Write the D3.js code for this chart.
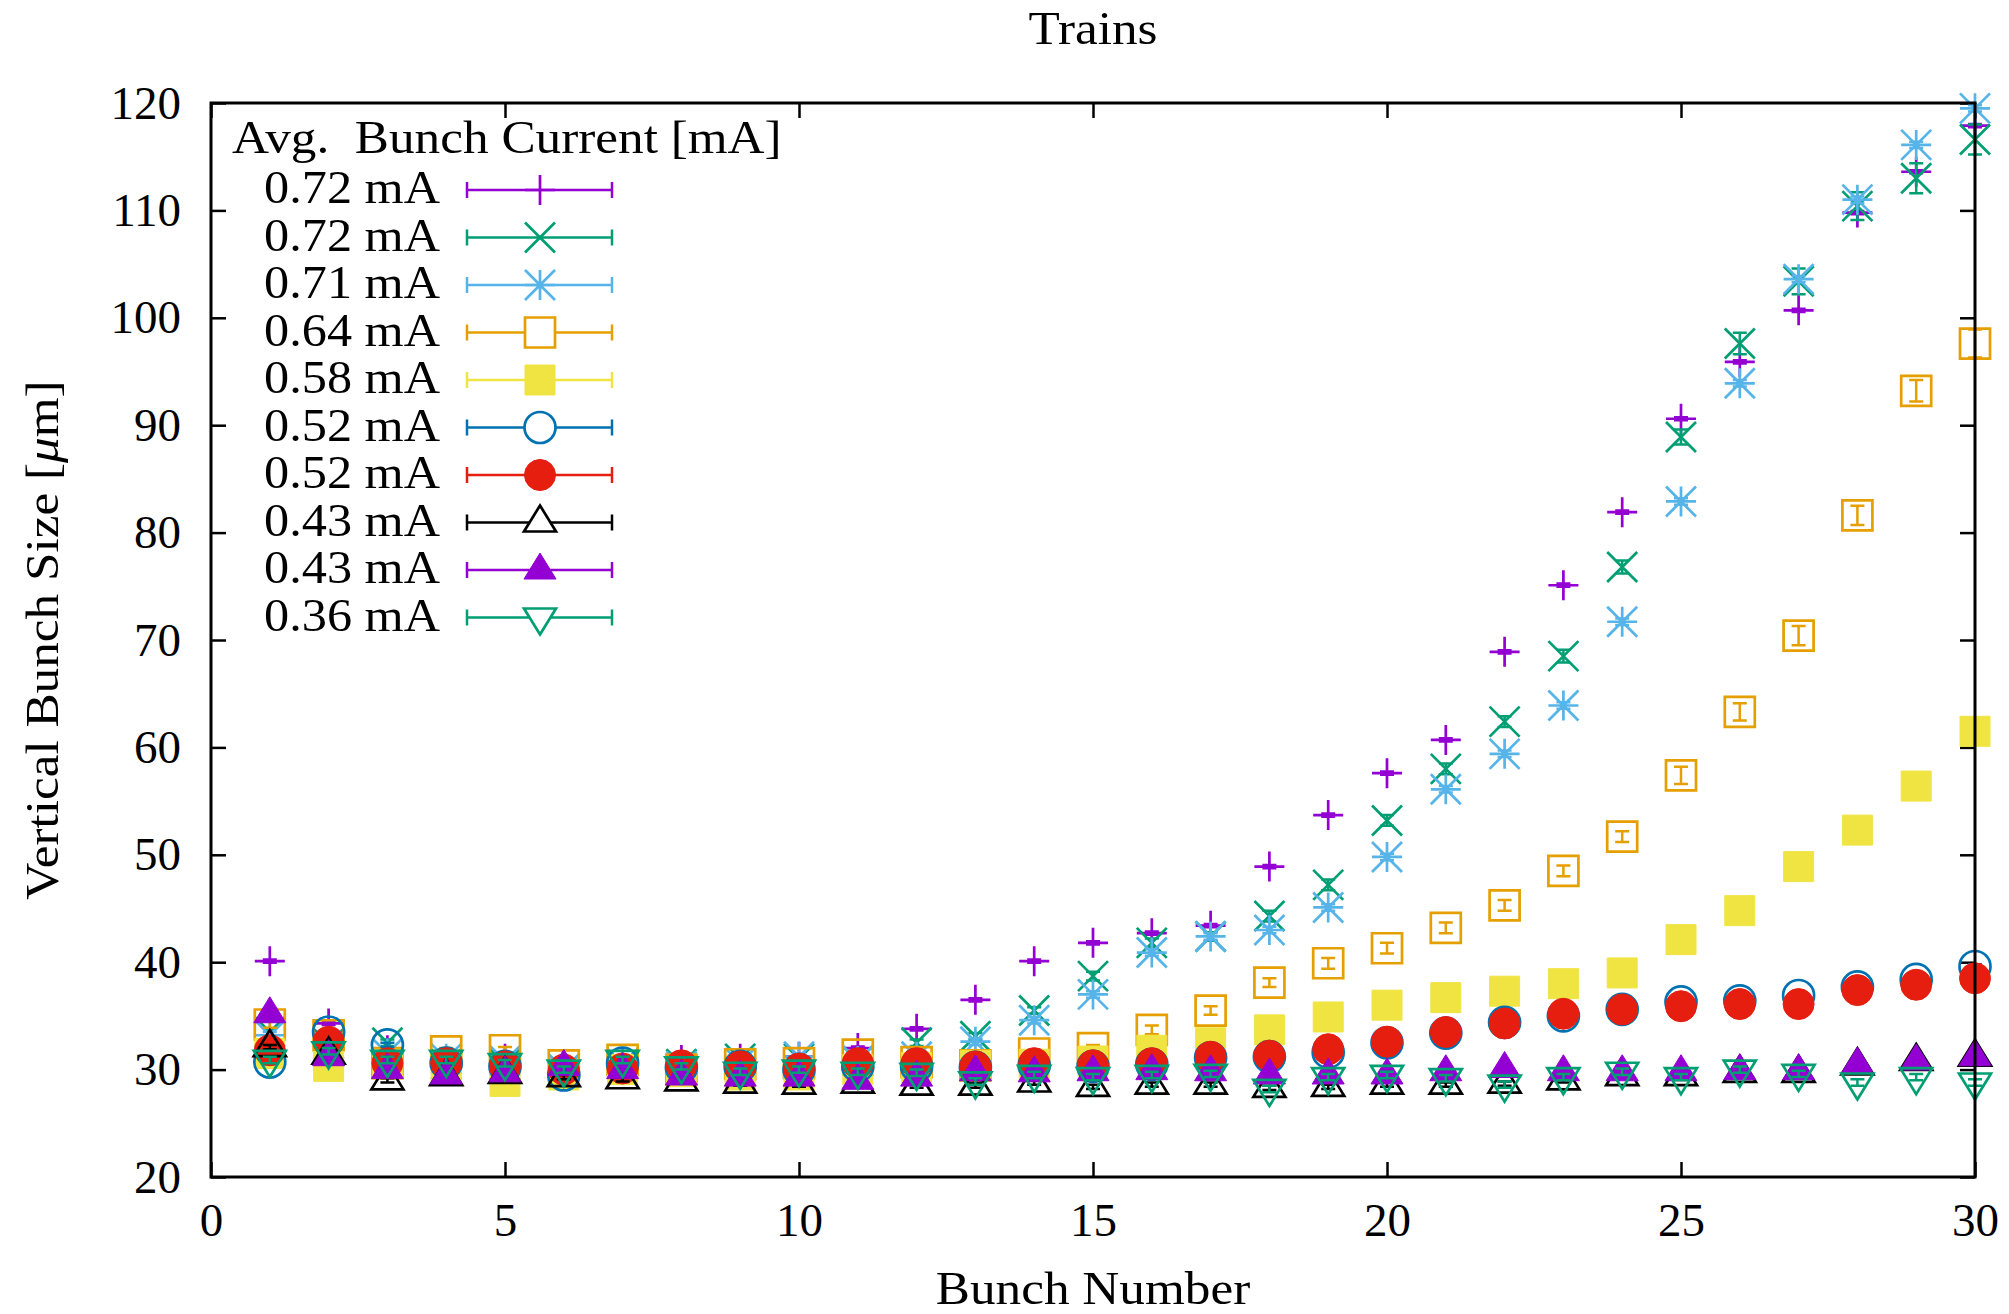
<!DOCTYPE html>
<html>
<head>
<meta charset="utf-8">
<style>
  body { margin: 0; background: #fff; }
  svg text { font-family: "Liberation Serif", "Times New Roman", serif; font-size: 47px; fill: #000; }
</style>
<script src="https://cdn.jsdelivr.net/npm/d3@7"></script>
</head>
<body>
<script>
// ---- data ----
const bunches = [1,2,3,4,5,6,7,8,9,10,11,12,13,14,15,16,17,18,19,20,21,22,23,24,25,26,27,28,29,30];
const xTicks = [0, 5, 10, 15, 20, 25, 30];
const yTicks = [20, 30, 40, 50, 60, 70, 80, 90, 100, 110, 120];
const labels = ["0.72 mA", "0.72 mA", "0.71 mA", "0.64 mA", "0.58 mA",
                "0.52 mA", "0.52 mA", "0.43 mA", "0.43 mA", "0.36 mA"];

const size072a = [40.1,34.3,31.8,30.7,31.0,30.2,30.6,30.9,31.0,31.2,32.0,33.8,36.5,40.1,41.8,
                  42.7,43.4,48.9,53.7,57.6,60.7,68.9,75.1,81.9,90.6,95.9,100.7,109.8,113.6,117.9];
const size072b = [33.5,32.4,32.5,30.5,30.5,30.0,30.5,30.5,31.0,31.0,30.8,32.5,33.1,35.5,38.7,
                  41.8,42.4,44.3,47.2,53.2,58.0,62.4,68.5,76.8,88.9,97.6,103.4,110.4,113.0,116.6];
const size071  = [33.2,32.0,31.5,31.0,30.8,30.0,30.5,30.3,30.6,31.2,30.8,31.2,32.6,34.6,37.0,
                  40.9,42.4,43.0,45.1,49.8,56.1,59.4,63.9,71.7,82.9,93.9,103.6,111.0,116.1,119.5];
const size064  = [34.2,33.2,30.6,31.7,31.8,30.4,30.9,30.0,30.5,30.6,31.4,30.7,30.4,31.5,32.0,
                  33.7,35.5,38.1,39.9,41.3,43.2,45.3,48.5,51.7,57.4,63.3,70.4,81.6,93.2,97.6];
const size058  = [31.5,30.3,30.5,30.3,28.9,29.5,30.0,29.8,29.5,29.5,30.0,30.2,30.4,30.5,30.8,
                  31.8,32.5,33.7,34.9,36.0,36.7,37.3,38.0,39.0,42.1,44.8,48.9,52.3,56.4,61.5];
const size052a = [30.7,33.5,32.3,30.6,30.3,29.5,30.6,30.2,30.3,30.0,30.3,30.3,30.2,30.4,30.3,
                  30.5,31.1,31.2,31.6,32.5,33.4,34.4,35.0,35.6,36.3,36.4,36.9,37.7,38.4,39.6];
const size052b = [31.8,32.6,30.6,30.6,30.3,30.0,30.1,30.4,30.3,30.1,30.6,30.6,30.3,30.6,30.4,
                  30.6,31.2,31.3,31.9,32.6,33.5,34.3,35.2,35.6,35.9,36.1,36.1,37.4,37.9,38.5];
const size043a = [32.1,31.4,29.0,29.4,29.6,29.3,29.1,28.9,28.7,28.6,28.7,28.5,28.5,28.8,28.4,
                  28.6,28.6,28.3,28.4,28.6,28.6,28.7,29.0,29.4,29.4,29.7,29.7,30.4,30.8,31.2];
const size043b = [35.2,31.2,30.0,29.5,29.7,30.3,30.0,29.4,29.3,29.3,29.0,29.3,29.8,29.7,29.8,
                  29.9,29.8,29.5,29.5,29.5,29.8,30.1,29.8,29.8,29.8,29.9,29.9,30.5,30.8,31.2];
const size036  = [30.9,31.7,30.9,30.9,30.6,30.0,30.9,30.3,29.8,30.0,29.8,29.7,28.9,29.5,29.3,
                  29.5,29.6,28.2,29.3,29.5,29.2,28.6,29.3,29.8,29.3,30.0,29.6,28.8,29.3,28.8];

// error bars (half widths) where they can be seen
const err072b = [0.3,0.3,0.3,0.3,0.3,0.3,0.3,0.3,0.3,0.3,0.3,0.3,0.3,0.3,0.4,
                 0.4,0.4,0.5,0.5,0.5,0.5,0.5,0.6,0.6,0.7,1.0,1.2,1.3,1.4,1.4];
const err064  = [0.3,0.3,0.3,0.3,0.3,0.3,0.3,0.3,0.3,0.3,0.3,0.3,0.3,0.3,0.3,
                 0.4,0.4,0.4,0.5,0.5,0.5,0.5,0.5,0.5,0.8,0.8,0.9,0.9,1.0,1.3];
// typical half width for the series whose bars hide under the markers
const errTypical = [0.15, null, 0.3, null, 0.2, 0.2, 0.2, 0.2, 0.2, 0.3];

const seriesValues = [size072a, size072b, size071, size064, size058,
                      size052a, size052b, size043a, size043b, size036];
const seriesErrors = [null, err072b, null, err064, null, null, null, null, null, null];

// ---- styles ----
const styles = [
  {color: "#9400d3", shape: "plus",    fill: false},
  {color: "#009e73", shape: "cross",   fill: false},
  {color: "#56b4e9", shape: "star",    fill: false},
  {color: "#e69f00", shape: "square",  fill: false},
  {color: "#f0e442", shape: "square",  fill: true},
  {color: "#0072b2", shape: "circle",  fill: false},
  {color: "#e51e10", shape: "circle",  fill: true},
  {color: "#000000", shape: "triUp",   fill: false},
  {color: "#9400d3", shape: "triUp",   fill: true},
  {color: "#009e73", shape: "triDown", fill: false}
];

const markerPath = {
  plus:    "M-15,0H15M0,-15V15",
  cross:   "M-15,-15L15,15M-15,15L15,-15",
  star:    "M-15,0H15M0,-15V15M-15,-15L15,15M-15,15L15,-15",
  square:  "M-15,-15H15V15H-15Z",
  circle:  "M15.5,0A15.5,15.5 0 1,1 -15.5,0A15.5,15.5 0 1,1 15.5,0Z",
  triUp:   "M0,-17L16,9L-16,9Z",
  triDown: "M0,17L16,-9L-16,-9Z"
};

// the reference font (Computer Modern) runs a bit wider than Liberation Serif
const wide = 1.09;

const W = 2009, H = 1314;
const margin = {left: 211, right: 34, top: 103, bottom: 137};
const plotW = W - margin.left - margin.right,
      plotH = H - margin.top - margin.bottom;

const svg = d3.select("body").append("svg")
    .attr("width", W)
    .attr("height", H);

const x = d3.scaleLinear().domain([0, 30]).range([margin.left, margin.left + plotW]);
const y = d3.scaleLinear().domain([20, 120]).range([margin.top + plotH, margin.top]);

// ---- axes, gnuplot style: inward ticks on all four sides ----
function styleAxis(g) {
  g.select(".domain").remove();
  g.selectAll(".tick line").attr("stroke", "#000").attr("stroke-width", 2.5);
  g.selectAll(".tick text").attr("font-family", null).attr("font-size", null);
}

svg.append("g")
    .attr("transform", `translate(0,${margin.top + plotH})`)
    .call(d3.axisBottom(x).tickValues(xTicks).tickSize(-15).tickPadding(26).tickFormat(d3.format("d")))
    .call(styleAxis);
svg.append("g")
    .attr("transform", `translate(0,${margin.top})`)
    .call(d3.axisTop(x).tickValues(xTicks).tickSize(-15).tickFormat(""))
    .call(styleAxis);
svg.append("g")
    .attr("transform", `translate(${margin.left},0)`)
    .call(d3.axisLeft(y).tickValues(yTicks).tickSize(-15).tickPadding(30).tickFormat(d3.format("d")))
    .call(styleAxis);
svg.append("g")
    .attr("transform", `translate(${margin.left + plotW},0)`)
    .call(d3.axisRight(y).tickValues(yTicks).tickSize(-15).tickFormat(""))
    .call(styleAxis);

// ---- data series ----
seriesValues.forEach(function(vals, i) {
  const st = styles[i];
  const g = svg.append("g").attr("class", "series-" + i);
  const pts = vals.map(function(v, j) {
    const e = seriesErrors[i] ? seriesErrors[i][j] : errTypical[i];
    return {b: bunches[j], v: v, e: e};
  });

  // error bars with caps
  g.selectAll(".err").data(pts).enter().append("path")
      .attr("class", "err")
      .attr("fill", "none")
      .attr("stroke", st.color)
      .attr("stroke-width", 2.5)
      .attr("d", function(d) {
        const px = x(d.b), lo = y(d.v - d.e), hi = y(d.v + d.e);
        return `M${px},${lo}V${hi}M${px - 7},${lo}H${px + 7}M${px - 7},${hi}H${px + 7}`;
      });

  g.selectAll(".pt").data(pts).enter().append("path")
      .attr("class", "pt")
      .attr("transform", d => `translate(${x(d.b)},${y(d.v)})`)
      .attr("d", markerPath[st.shape])
      .attr("fill", st.fill ? st.color : "none")
      .attr("stroke", st.color)
      .attr("stroke-width", st.fill ? 1 : 2.7)
      .attr("stroke-linejoin", "miter");
});

// frame on top of the points
svg.append("rect")
    .attr("x", margin.left)
    .attr("y", margin.top)
    .attr("width", plotW)
    .attr("height", plotH)
    .attr("fill", "none")
    .attr("stroke", "#000")
    .attr("stroke-width", 3);

// ---- legend ----
const legend = svg.append("g").attr("class", "legend");
legend.append("text")
    .attr("transform", `translate(232,153) scale(${wide},1)`)
    .text("Avg.  Bunch Current [mA]")
    .attr("xml:space", "preserve")
    .style("white-space", "pre");

const rowY0 = 190, rowStep = 47.5;
labels.forEach(function(lab, i) {
  const st = styles[i];
  const ry = rowY0 + i * rowStep;
  legend.append("text")
      .attr("transform", `translate(440,${ry + 13}) scale(1.07,1)`)
      .attr("text-anchor", "end")
      .text(lab);
  legend.append("path")
      .attr("d", `M467,${ry}H612M467,${ry - 8}V${ry + 8}M612,${ry - 8}V${ry + 8}`)
      .attr("fill", "none")
      .attr("stroke", st.color)
      .attr("stroke-width", 2.5);
  legend.append("path")
      .attr("transform", `translate(540,${ry})`)
      .attr("d", markerPath[st.shape])
      .attr("fill", st.fill ? st.color : (st.shape === "plus" || st.shape === "cross" || st.shape === "star" ? "none" : "#fff"))
      .attr("stroke", st.color)
      .attr("stroke-width", st.fill ? 1 : 2.7);
});

// ---- titles ----
svg.append("text")
    .attr("transform", `translate(${margin.left + plotW / 2},44) scale(${wide},1)`)
    .attr("text-anchor", "middle")
    .text("Trains");

svg.append("text")
    .attr("transform", `translate(${margin.left + plotW / 2},1304) scale(${wide},1)`)
    .attr("text-anchor", "middle")
    .text("Bunch Number");

const yl = svg.append("text")
    .attr("transform", `translate(58,${margin.top + plotH / 2}) rotate(-90) scale(${wide},1)`)
    .attr("text-anchor", "middle");
yl.append("tspan").text("Vertical Bunch Size [");
yl.append("tspan").attr("font-style", "italic").text("\u03bc");
yl.append("tspan").text("m]");
</script>
</body>
</html>
